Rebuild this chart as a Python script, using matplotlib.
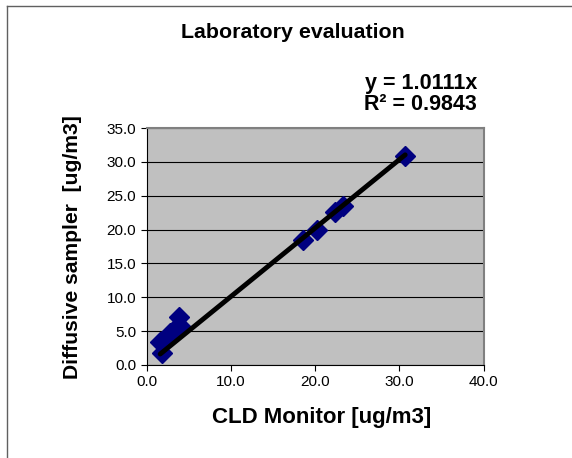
import matplotlib
matplotlib.use("Agg")
import matplotlib.pyplot as plt
from matplotlib.lines import Line2D
import numpy as np

plt.rcParams['font.family'] = ['Liberation Sans', 'DejaVu Sans']

x_cld = [1.8, 1.6, 2.8, 3.2, 3.8, 4.0, 18.6, 20.2, 22.4, 23.3, 30.7]
y_diff = [1.8, 3.4, 4.7, 5.2, 7.1, 5.7, 18.5, 20.0, 22.6, 23.5, 30.9]
slope = 1.0111
r2 = 0.9843
xticks = [0, 10, 20, 30, 40]
yticks = [0, 5, 10, 15, 20, 25, 30, 35]

fig = plt.figure(figsize=(5.72, 4.58), dpi=100)
ax = fig.add_axes([146.7/572, 1-365/458, (483.5-146.7)/572, (365-128)/458])
ax.set_facecolor('#C0C0C0')
ax.set_xlim(0, 40)
ax.set_ylim(0, 35)
ax.set_xticks(xticks)
ax.set_yticks(yticks)
ax.set_xticklabels([f"{v:.1f}" for v in xticks], fontsize=11)
ax.set_yticklabels([f"{v:.1f}" for v in yticks], fontsize=11)
ax.grid(axis='y', color='black', linewidth=0.8)
ax.set_axisbelow(True)
ax.tick_params(direction='out', length=4, width=0.8, color='black')
for s in ['top', 'right']:
    ax.spines[s].set_color('#808080')
    ax.spines[s].set_linewidth(1.5)
for s in ['left', 'bottom']:
    ax.spines[s].set_color('black')
    ax.spines[s].set_linewidth(0.8)

ax.plot(x_cld, y_diff, linestyle='none', marker='D', markersize=10,
        color='#000080', zorder=3)
xs = np.array([min(x_cld), max(x_cld)])
ax.plot(xs, slope*xs, color='black', linewidth=3.5, solid_capstyle='round', zorder=4)

fig.text(293/572, 1-32/458, "Laboratory evaluation", ha='center', va='center',
         fontsize=15.4, fontweight='bold')
fig.text(477/572, 1-83/458, f"y = {slope:.4f}x", ha='right', va='center',
         fontsize=15.5, fontweight='bold')
fig.text(477/572, 1-105/458, f"R² = {r2:.4f}", ha='right', va='center',
         fontsize=15.5, fontweight='bold')
fig.text(322/572, 1-418/458, "CLD Monitor [ug/m3]", ha='center', va='center',
         fontsize=16, fontweight='bold')
fig.text(73/572, 1-247.5/458, "Diffusive sampler  [ug/m3]", ha='center', va='center',
         rotation=90, fontsize=15.2, fontweight='bold')

fig.add_artist(Line2D([7/572, 7/572], [0, 1-6/458], color='#606060', linewidth=1))
fig.add_artist(Line2D([7/572, 1], [1-6/458, 1-6/458], color='#606060', linewidth=1))

fig.savefig('out.png', dpi=100)
